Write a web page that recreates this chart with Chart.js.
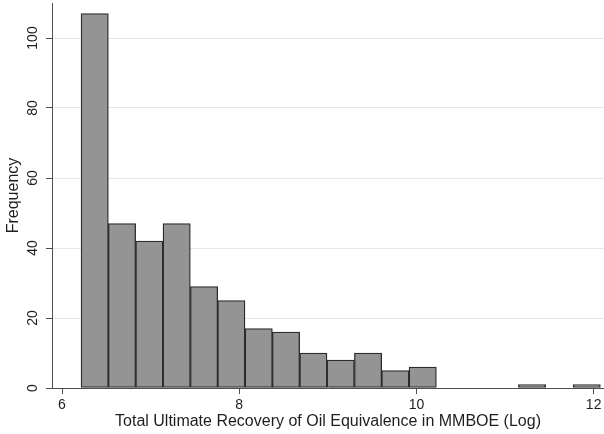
<!DOCTYPE html>
<html>
<head>
<meta charset="utf-8">
<script src="https://cdn.jsdelivr.net/npm/chart.js@4.4.1/dist/chart.umd.min.js"></script>
<style>
  html, body { margin: 0; padding: 0; background: #ffffff; overflow: hidden; }
  #wrap { width: 604px; height: 434px; overflow: hidden; }
  #c { display: block; }
</style>
</head>
<body>
<div id="wrap"><canvas id="c" width="604" height="434"></canvas></div>
<script>
// Histogram of log total ultimate recovery (MMBOE): bin midpoints and counts (non-empty bins)
const binMidpoints = [6.369, 6.677, 6.986, 7.294, 7.603, 7.911, 8.220, 8.528, 8.837, 9.145, 9.454, 9.762, 10.071, 11.305, 11.922];
const frequencies  = [107, 47, 42, 47, 29, 25, 17, 16, 10, 8, 10, 5, 6, 1, 1];
const xTickValues  = [6, 8, 10, 12];
const yTickValues  = [0, 20, 40, 60, 80, 100];

const FONT = "'Liberation Sans', Arial, Helvetica, sans-serif";
const AXIS = '#4d4d4d';
const TEXT = '#1e1e1e';

new Chart(document.getElementById('c'), {
  type: 'bar',
  data: {
    datasets: [{
      data: binMidpoints.map((x, i) => ({ x: x, y: frequencies[i] })),
      backgroundColor: '#949494',
      borderColor: '#2b2b2b',
      borderWidth: 1.3,
      borderSkipped: false,
      barPercentage: 1,
      categoryPercentage: 1
    }]
  },
  options: {
    responsive: false,
    animation: false,
    devicePixelRatio: 1,
    layout: { padding: { top: 3, left: 0, right: 0, bottom: 0 } },
    plugins: { legend: { display: false }, tooltip: { enabled: false } },
    scales: {
      x: {
        type: 'linear',
        offset: false,
        min: 5.887,
        max: 12.117,
        afterBuildTicks: s => { s.ticks = xTickValues.map(v => ({ value: v })); },
        afterFit: s => { s.height = 46; s.paddingLeft = 0; s.paddingRight = 0; },
        grid: { offset: false, drawOnChartArea: false, drawTicks: true, tickLength: 6, tickColor: AXIS, tickWidth: 1 },
        border: { color: AXIS, width: 1 },
        ticks: { color: TEXT, font: { family: FONT, size: 14 }, padding: 3, maxRotation: 0, minRotation: 0, autoSkip: false },
        title: {
          display: true,
          text: 'Total Ultimate Recovery of Oil Equivalence in MMBOE (Log)',
          color: TEXT,
          font: { family: FONT, size: 16 },
          padding: { top: 0, bottom: 3 }
        }
      },
      y: {
        type: 'linear',
        min: 0,
        max: 110,
        afterBuildTicks: s => { s.ticks = yTickValues.map(v => ({ value: v })); },
        afterFit: s => { s.width = 52; s.paddingTop = 0; s.paddingBottom = 0; },
        grid: { color: '#e6e6e6', lineWidth: 1, drawTicks: true, tickLength: 6, tickColor: AXIS, tickWidth: 1 },
        border: { color: AXIS, width: 1 },
        ticks: { color: TEXT, font: { family: FONT, size: 14 }, padding: 1, minRotation: 90, maxRotation: 90, crossAlign: 'center' },
        title: {
          display: true,
          text: 'Frequency',
          color: TEXT,
          font: { family: FONT, size: 16 },
          padding: { top: 4, bottom: 0 }
        }
      }
    }
  }
});
</script>
</body>
</html>
